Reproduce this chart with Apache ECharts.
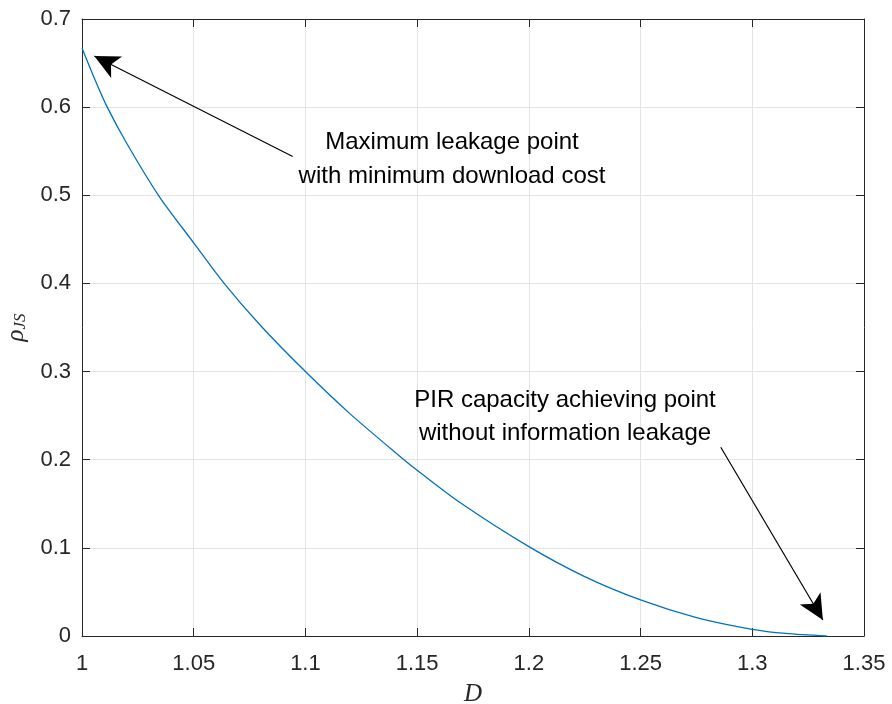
<!DOCTYPE html>
<html>
<head>
<meta charset="utf-8">
<script src="https://cdn.jsdelivr.net/npm/echarts@6/dist/echarts.min.js"></script>
<style>html,body{margin:0;padding:0;background:#fff;}#chart{width:892px;height:704px;}</style>
</head>
<body>
<div id="chart"></div>
<script>
// Data
var D   = [1.0, 1.005, 1.0113, 1.02, 1.0342, 1.05, 1.0636, 1.08, 1.1, 1.12, 1.1441, 1.15, 1.17, 1.2, 1.225, 1.25, 1.275, 1.3, 1.315, 1.3333];
var rho = [0.667, 0.636, 0.6, 0.559, 0.5, 0.446, 0.4, 0.352, 0.3, 0.252, 0.2, 0.188, 0.150, 0.1014, 0.0674, 0.0409, 0.0209, 0.0076, 0.0029, 0.0];
var xTicks = [1, 1.05, 1.1, 1.15, 1.2, 1.25, 1.3, 1.35];
var yTicks = [0, 0.1, 0.2, 0.3, 0.4, 0.5, 0.6, 0.7];
// Annotation arrows (data coordinates): tail, head tip
var arrow1 = [[1.0943, 0.544], [1.0055, 0.658]];
var arrow2 = [[1.2859, 0.2142], [1.3316, 0.0182]];
var text1 = 'Maximum leakage point\nwith minimum download cost';
var text2 = 'PIR capacity achieving point\nwithout information leakage';

var pts = D.map(function (d, i) { return [d, rho[i]]; });
var axisCol = '#262626';
var gridCol = '#e3e3e3';
var FONT = '"Liberation Sans", Arial, Helvetica, sans-serif';

var chart = echarts.init(document.getElementById('chart'), null, {renderer: 'canvas'});
function axisBase(extra) {
  var o = {
    type: 'value',
    axisLine: {show: true, onZero: false, lineStyle: {color: axisCol, width: 1}},
    axisTick: {show: true, inside: true, length: 8, lineStyle: {color: axisCol, width: 1}},
    splitLine: {show: false},
    axisLabel: {show: false}
  };
  for (var k in extra) o[k] = extra[k];
  return o;
}
var option = {
  animation: false,
  backgroundColor: '#ffffff',
  grid: {left: 82, right: 28, top: 19, bottom: 68, containLabel: false, outerBoundsMode: 'none'},
  xAxis: [
    axisBase({
      position: 'bottom', min: xTicks[0], max: xTicks[xTicks.length - 1], interval: 0.05,
      splitLine: {show: true, lineStyle: {color: gridCol, width: 1}},
      axisLabel: {show: true, color: axisCol, fontFamily: FONT, fontSize: 22, margin: 17,
        formatter: function (v) { return String(+v.toFixed(2)); }},
      name: 'D', nameLocation: 'middle', nameGap: 46,
      nameTextStyle: {fontFamily: '"Liberation Serif", "DejaVu Serif", serif', fontStyle: 'italic', fontSize: 25, color: axisCol}
    }),
    axisBase({position: 'top', min: xTicks[0], max: xTicks[xTicks.length - 1], interval: 0.05})
  ],
  yAxis: [
    axisBase({
      position: 'left', min: yTicks[0], max: yTicks[yTicks.length - 1], interval: 0.1,
      splitLine: {show: true, lineStyle: {color: gridCol, width: 1}},
      axisLabel: {show: true, color: axisCol, fontFamily: FONT, fontSize: 22, margin: 11,
        formatter: function (v) { return String(+v.toFixed(1)); }},
      name: '{a|ρ}{b|JS}', nameLocation: 'middle', nameGap: 52, nameRotate: 90,
      nameTextStyle: {
        color: axisCol,
        rich: {
          a: {fontFamily: '"Liberation Serif", "DejaVu Serif", serif', fontStyle: 'italic', fontSize: 25, color: axisCol},
          b: {fontFamily: '"Liberation Serif", "DejaVu Serif", serif', fontStyle: 'italic', fontSize: 17, color: axisCol, padding: [10, 0, 0, 0]}
        }
      }
    }),
    axisBase({position: 'right', min: yTicks[0], max: yTicks[yTicks.length - 1], interval: 0.1})
  ],
  series: [
    {
      type: 'line', data: pts, showSymbol: false, smooth: 0.3,
      lineStyle: {color: '#0072BD', width: 1.3}, z: 3,
      markLine: {
        silent: true, animation: false, precision: 4,
        symbol: ['none', 'arrow'],
        label: {show: false},
        lineStyle: {color: '#000000', width: 1.2, type: 'solid'},
        emphasis: {disabled: true},
        data: [
          [{coord: arrow1[0], symbol: 'none'}, {coord: arrow1[1], symbol: 'arrow', symbolSize: [18, 25]}],
          [{coord: arrow2[0], symbol: 'none'}, {coord: arrow2[1], symbol: 'arrow', symbolSize: [18, 25]}]
        ]
      }
    }
  ],
  graphic: [
    {type: 'text', x: 452, y: 159, style: {text: text1, font: '24px ' + FONT, fill: '#000', textAlign: 'center', textVerticalAlign: 'middle', lineHeight: 34}, z: 10},
    {type: 'text', x: 565, y: 417, style: {text: text2, font: '24px ' + FONT, fill: '#000', textAlign: 'center', textVerticalAlign: 'middle', lineHeight: 33}, z: 10}
  ]
};
chart.setOption(option);
</script>
</body>
</html>
